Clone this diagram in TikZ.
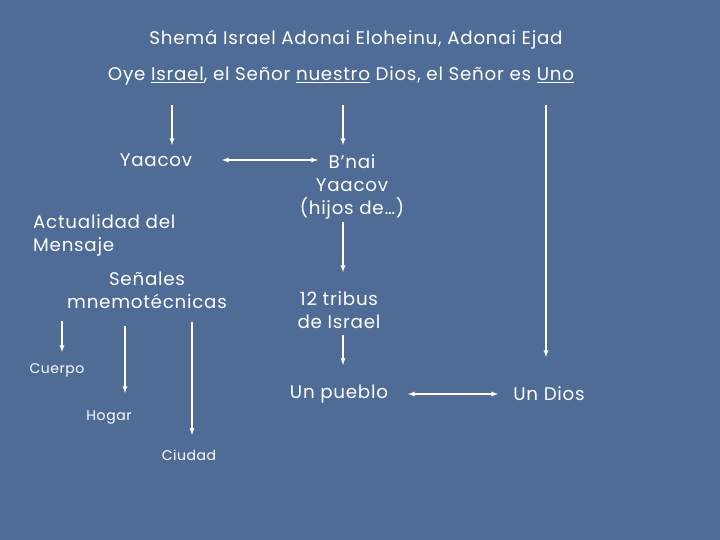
\documentclass[tikz,border=0pt]{standalone}
\usepackage{fontspec}
\setmainfont{Poppins}[LetterSpace=4]
\begin{document}
\begin{tikzpicture}[x=1pt,y=-1pt,
  txt/.style={text=white,font=\fontsize{18.3}{23}\selectfont,inner sep=0pt},
  sm/.style={text=white,font=\fontsize{14}{16}\selectfont,inner sep=0pt},
  arr/.style={white,line width=1.3pt,-latex},
  darr/.style={white,line width=1.3pt,latex-latex}]
\definecolor{bg}{RGB}{78,108,150}
\fill[bg] (0,0) rectangle (720,540);
\useasboundingbox (0,0) rectangle (720,540);
\node[txt] (t1) at (356,40) {Shemá Israel Adonai Eloheinu, Adonai Ejad};
\node[txt] (t2) at (341,76) {Oye \underline{Israel}, el Señor \underline{nuestro} Dios, el Señor es \underline{Uno}};
\node[txt] (ya) at (156,160) {Yaacov};
\node[txt,align=center] (bn) at (352,187) {B’nai\\Yaacov\\(hijos de…)};
\node[txt,align=left,anchor=west] (ac) at (33,235) {Actualidad del\\Mensaje};
\node[txt,align=center] (se) at (147,290) {Señales\\mnemotécnicas};
\node[txt,align=center] (tr) at (339,310) {12 tribus\\de Israel};
\node[txt] (up) at (339,394) {Un pueblo};
\node[txt] (ud) at (549,394) {Un Dios};
\node[sm] (cu) at (57,370) {Cuerpo};
\node[sm] (ho) at (109,418) {Hogar};
\node[sm] (ci) at (189,455) {Ciudad};
\coordinate (a1) at (172,105); \coordinate (a2) at (343,105); \coordinate (a3) at (546,105);
\draw[arr] (a1) -- (172,145);
\draw[arr] (a2) -- (343,145);
\draw[arr] (a3) -- (546,357);
\draw[darr] (222,160) -- (318,160);
\draw[arr] (343,222) -- (343,272);
\draw[arr] (343,335) -- (343,365);
\draw[darr] (408,394) -- (498,394);
\draw[arr] (62,321) -- (62,352);
\draw[arr] (125,326) -- (125,393);
\draw[arr] (192,322) -- (192,435);
\end{tikzpicture}
\end{document}
